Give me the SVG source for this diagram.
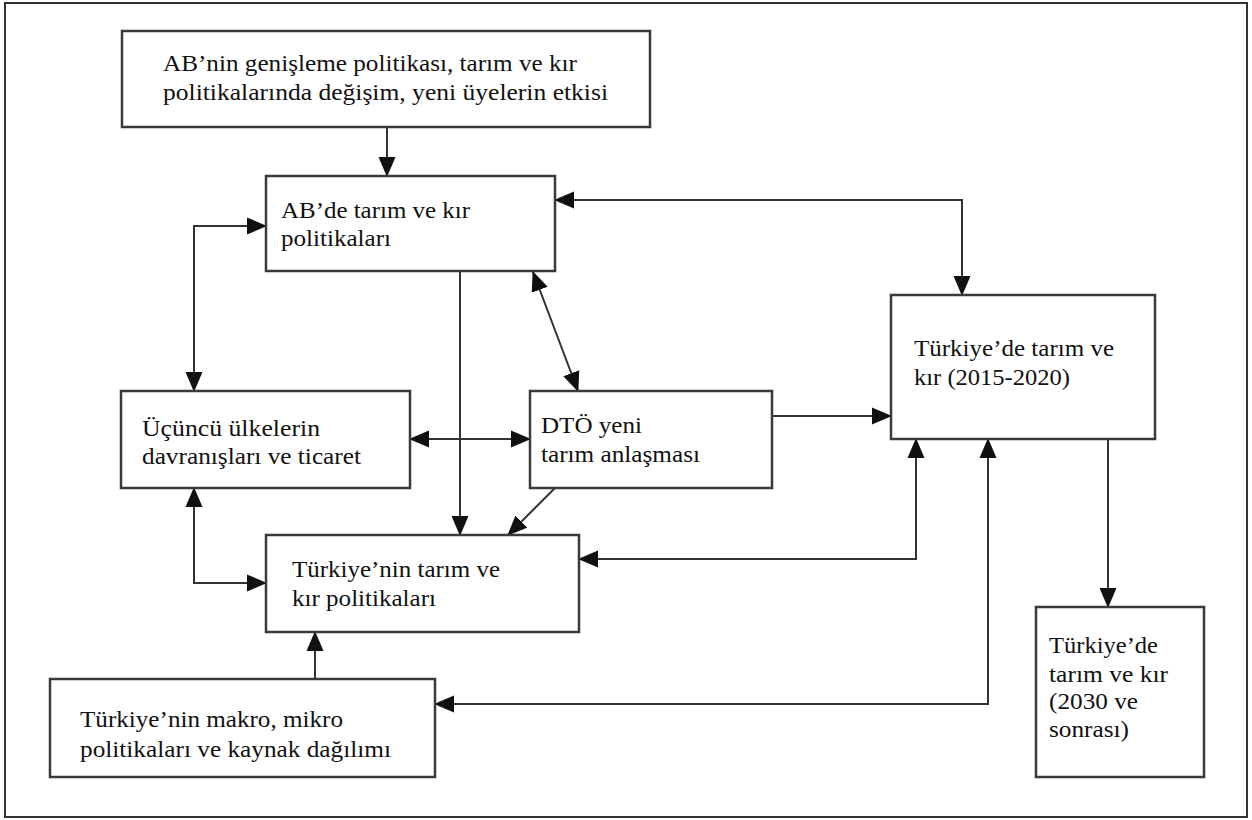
<svg xmlns="http://www.w3.org/2000/svg" width="1252" height="820" viewBox="0 0 1252 820">
<style>
.frame{fill:#fff;stroke:#333;stroke-width:2}
.box{fill:#fff;stroke:#3a3a3a;stroke-width:2.5}
.lbl{font-family:"Liberation Serif","Times New Roman",serif;font-size:24px;fill:#111}
.con{fill:none;stroke:#333;stroke-width:2}
</style>
<defs>
<marker id="ah" markerUnits="userSpaceOnUse" markerWidth="20" markerHeight="18" refX="19" refY="8.5" orient="auto-start-reverse" viewBox="0 0 20 17">
<path d="M0,0 L20,8.5 L0,17 z" fill="#111"/>
</marker>
</defs>
<rect x="0" y="0" width="1252" height="820" fill="#fff"/>
<rect class="frame" x="5" y="3" width="1242" height="814"/>

<g id="connectors">
<path class="con" d="M387,127 V176" marker-end="url(#ah)"/>
<path class="con" d="M266,226 H194 V391" marker-start="url(#ah)" marker-end="url(#ah)"/>
<path class="con" d="M555,200 H962 V295" marker-start="url(#ah)" marker-end="url(#ah)"/>
<path class="con" d="M460,271 V535" marker-end="url(#ah)"/>
<path class="con" d="M533,272 L578,391" marker-start="url(#ah)" marker-end="url(#ah)"/>
<path class="con" d="M410,439 H530" marker-start="url(#ah)" marker-end="url(#ah)"/>
<path class="con" d="M772,416 H891" marker-end="url(#ah)"/>
<path class="con" d="M555,488 L508,535" marker-end="url(#ah)"/>
<path class="con" d="M194,488 V583 H266" marker-start="url(#ah)" marker-end="url(#ah)"/>
<path class="con" d="M916,439 V559 H579" marker-start="url(#ah)" marker-end="url(#ah)"/>
<path class="con" d="M988,439 V704 H435" marker-start="url(#ah)" marker-end="url(#ah)"/>
<path class="con" d="M315,679 V632" marker-end="url(#ah)"/>
<path class="con" d="M1108,439 V607" marker-end="url(#ah)"/>
</g>

<g id="n-ab-genisleme">
<rect class="box" x="122" y="31" width="528" height="96"/>
<text class="lbl" x="163" y="71" textLength="414" lengthAdjust="spacingAndGlyphs">AB’nin genişleme politikası, tarım ve kır</text>
<text class="lbl" x="163" y="100" textLength="445" lengthAdjust="spacingAndGlyphs">politikalarında değişim, yeni üyelerin etkisi</text>
</g>

<g id="n-ab-tarim">
<rect class="box" x="266" y="176" width="289" height="95"/>
<text class="lbl" x="281" y="218" textLength="189" lengthAdjust="spacingAndGlyphs">AB’de tarım ve kır</text>
<text class="lbl" x="281" y="246" textLength="110" lengthAdjust="spacingAndGlyphs">politikaları</text>
</g>

<g id="n-ucuncu">
<rect class="box" x="121" y="391" width="289" height="97"/>
<text class="lbl" x="142" y="436" textLength="178" lengthAdjust="spacingAndGlyphs">Üçüncü ülkelerin</text>
<text class="lbl" x="142" y="464" textLength="219" lengthAdjust="spacingAndGlyphs">davranışları ve ticaret</text>
</g>

<g id="n-dto">
<rect class="box" x="530" y="391" width="242" height="97"/>
<text class="lbl" x="541" y="433" textLength="101" lengthAdjust="spacingAndGlyphs">DTÖ yeni</text>
<text class="lbl" x="541" y="462" textLength="159" lengthAdjust="spacingAndGlyphs">tarım anlaşması</text>
</g>

<g id="n-turkiye-2015">
<rect class="box" x="891" y="295" width="264" height="144"/>
<text class="lbl" x="914" y="356" textLength="200" lengthAdjust="spacingAndGlyphs">Türkiye’de tarım ve</text>
<text class="lbl" x="914" y="385" textLength="156" lengthAdjust="spacingAndGlyphs">kır (2015-2020)</text>
</g>

<g id="n-turkiye-politika">
<rect class="box" x="266" y="535" width="313" height="97"/>
<text class="lbl" x="292" y="577" textLength="208" lengthAdjust="spacingAndGlyphs">Türkiye’nin tarım ve</text>
<text class="lbl" x="292" y="606" textLength="144" lengthAdjust="spacingAndGlyphs">kır politikaları</text>
</g>

<g id="n-makro">
<rect class="box" x="50" y="679" width="385" height="98"/>
<text class="lbl" x="80" y="727" textLength="263" lengthAdjust="spacingAndGlyphs">Türkiye’nin makro, mikro</text>
<text class="lbl" x="80" y="757" textLength="311" lengthAdjust="spacingAndGlyphs">politikaları ve kaynak dağılımı</text>
</g>

<g id="n-turkiye-2030">
<rect class="box" x="1036" y="607" width="168" height="170"/>
<text class="lbl" x="1049" y="653" textLength="109" lengthAdjust="spacingAndGlyphs">Türkiye’de</text>
<text class="lbl" x="1049" y="682" textLength="119" lengthAdjust="spacingAndGlyphs">tarım ve kır</text>
<text class="lbl" x="1049" y="709" textLength="89" lengthAdjust="spacingAndGlyphs">(2030 ve</text>
<text class="lbl" x="1049" y="737" textLength="80" lengthAdjust="spacingAndGlyphs">sonrası)</text>
</g>
</svg>
